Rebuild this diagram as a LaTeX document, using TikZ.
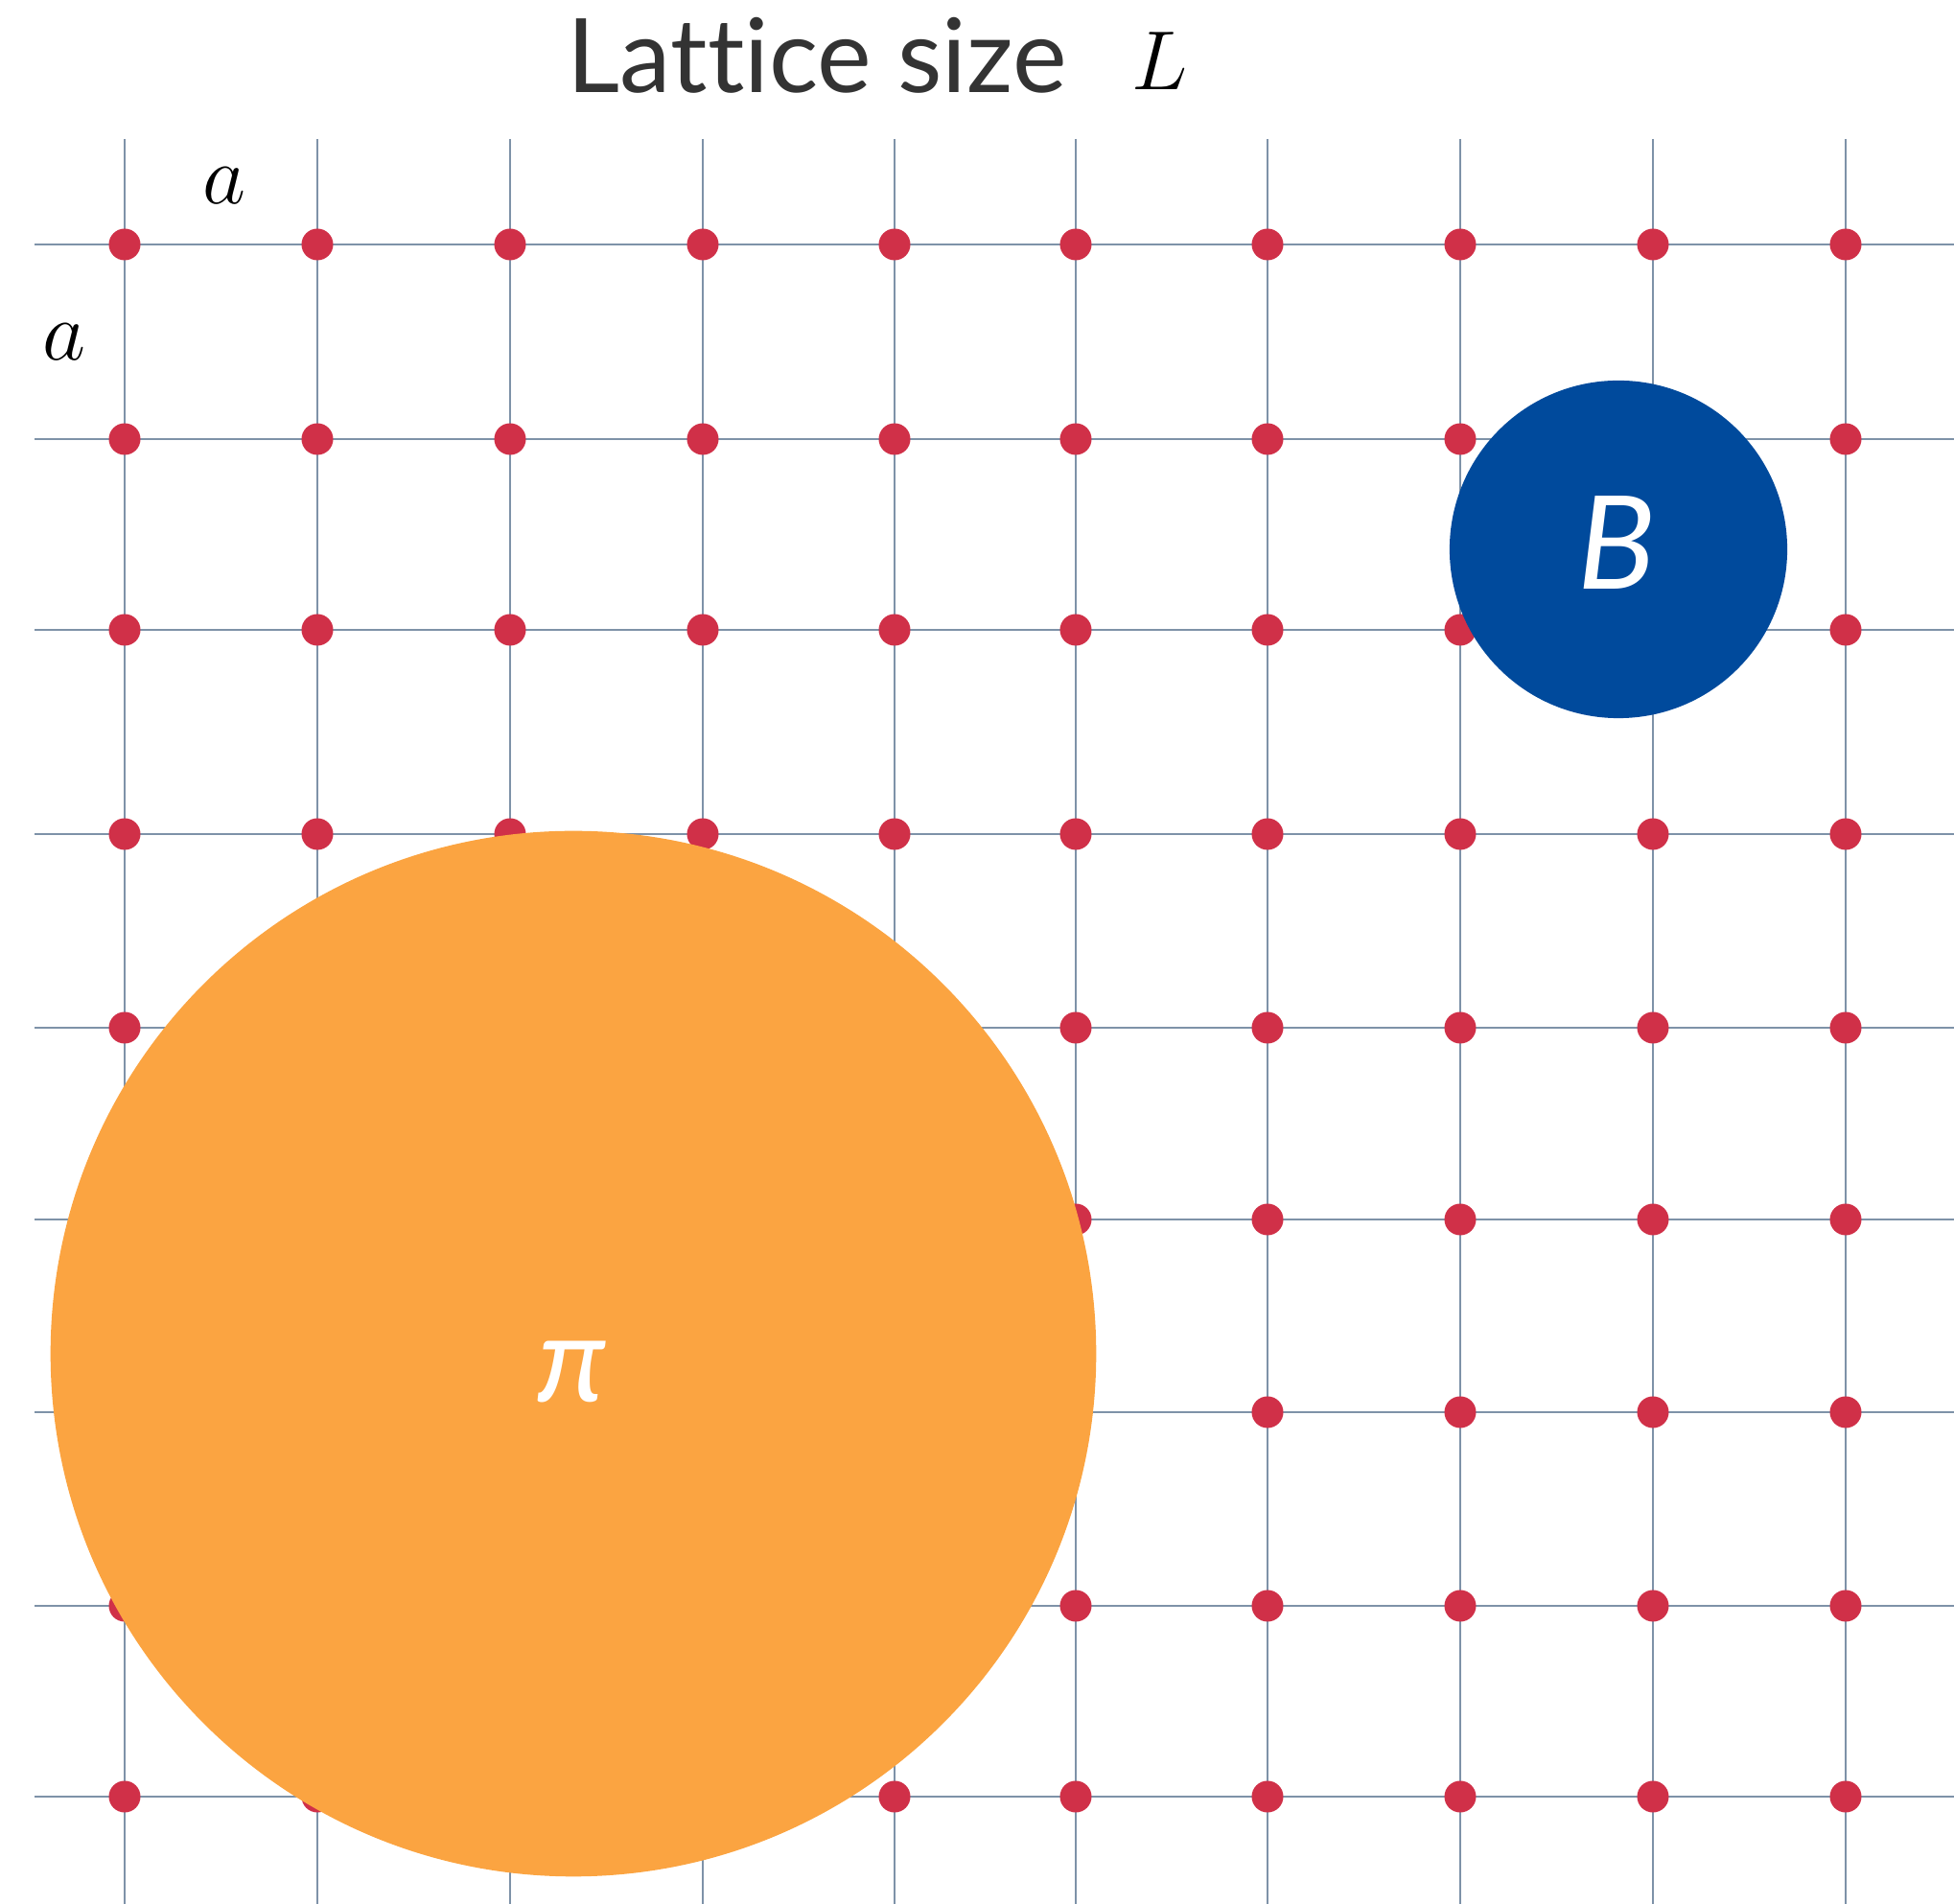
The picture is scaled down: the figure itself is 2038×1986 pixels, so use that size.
\documentclass[tikz,border=0pt]{standalone}
\usepackage{fontspec}
\usepackage{tikz}
\usetikzlibrary{positioning}
\usepackage{xcolor}
\newfontfamily\latofont{Lato}[Ligatures=NoCommon]
\definecolor{lqred}{HTML}{D03048}
\definecolor{lqgrid}{HTML}{7E92A8}
\definecolor{lqblue}{HTML}{004A9C}
\definecolor{lqorange}{HTML}{FBA441}
\definecolor{lqtext}{HTML}{333333}

\begin{document}
\begin{tikzpicture}[
    x=0.01cm, y=-0.01cm,
    gridline/.style={draw=lqgrid, line width=0.8pt},
    site/.style={circle, fill=lqred, inner sep=0pt, minimum size=0.33cm},
    meson/.style={circle, fill=#1, inner sep=0pt},
    mesonlabel/.style={text=white, inner sep=0pt, font=\latofont\itshape},
    spacing/.style={inner sep=0pt, font=\fontsize{28}{28}\selectfont}
  ]
    \useasboundingbox (0,0) rectangle (2038,1986);

    % lattice
    \foreach \y in {255,458,657,870,1072,1272,1473,1675,1874}
      \draw[gridline] (36,\y) -- (2038,\y);
    \foreach \x in {130,331,532,733,933,1122,1322,1523,1724,1925}
      \draw[gridline] (\x,145) -- (\x,1986);
    \foreach \x [count=\i] in {130,331,532,733,933,1122,1322,1523,1724,1925}
      \foreach \y [count=\j] in {255,458,657,870,1072,1272,1473,1675,1874}
        \node[site] (s-\i-\j) at (\x,\y) {};

    % title and spacings
    \node[anchor=base west, inner sep=0pt, text=lqtext,
          font=\latofont\fontsize{30.5}{30.5}\selectfont] (title) at (591,97) {Lattice size};
    \node[anchor=base west, inner sep=0pt,
          font=\fontsize{29}{29}\selectfont] (lsym) at (1180,94) {$L$};
    \node[spacing] (ax) at (234,194) {$a$};
    \node[spacing] (ay) at (67,357) {$a$};

    % hadrons
    \node[meson=lqblue, minimum size=3.52cm] (bmes) at (1688,573) {};
    \node[mesonlabel, font=\latofont\itshape\fontsize{38.5}{38.5}\selectfont] (blbl) at (1686,566) {B};
    \node[meson=lqorange, minimum size=10.9cm] (pion) at (598,1412) {};
    \node[mesonlabel, font=\latofont\itshape\fontsize{36}{36}\selectfont] (pilbl) at (597,1431) {π};
  \end{tikzpicture}
\end{document}
